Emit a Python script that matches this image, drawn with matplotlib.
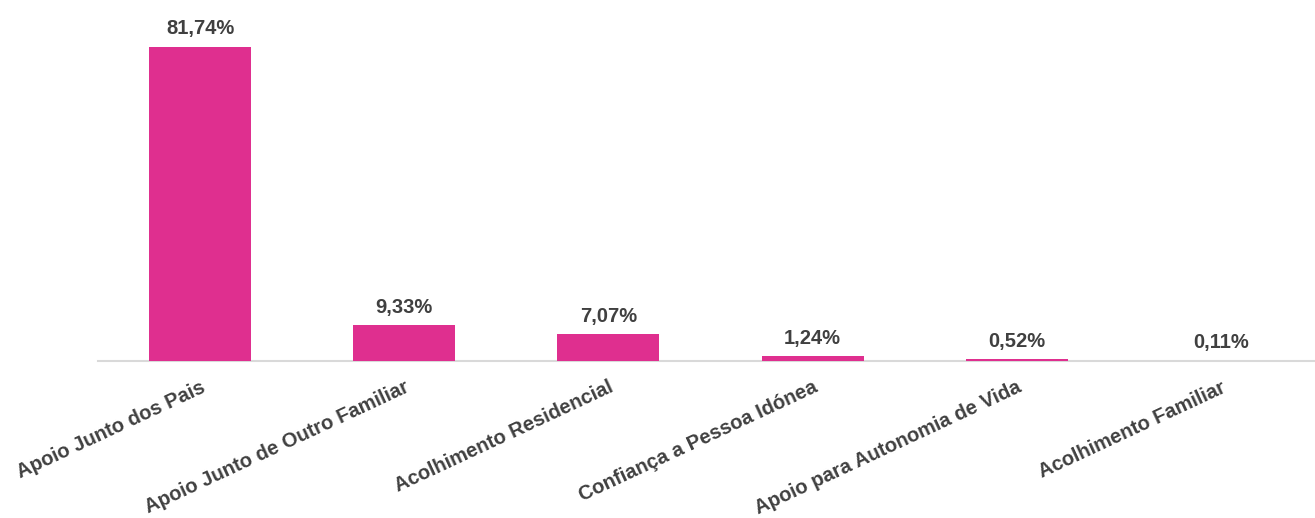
import matplotlib.pyplot as plt
import numpy as np

categories = ['Apoio Junto dos Pais', 'Apoio Junto de Outro Familiar',
              'Acolhimento Residencial', 'Confiança a Pessoa Idónea',
              'Apoio para Autonomia de Vida', 'Acolhimento Familiar']
values = [81.74, 9.33, 7.07, 1.24, 0.52, 0.11]
labels = ['81,74%', '9,33%', '7,07%', '1,24%', '0,52%', '0,11%']

plt.rcParams['font.family'] = ['Liberation Sans', 'DejaVu Sans']
text_color = '#404040'

fig = plt.figure(figsize=(13.15, 5.18), dpi=100)
ax = fig.add_axes([0.0745, 0.303, 0.9316, 0.668])

x = np.arange(len(categories))
bars = ax.bar(x, values, width=0.5, color='#DF2F8F', zorder=3)

# value labels above each bar
for xi, v, lab in zip(x, values, labels):
    ax.annotate(lab, xy=(xi, v), xytext=(0, 6), textcoords='offset points',
                ha='center', va='bottom', fontsize=14.5, fontweight='bold',
                color=text_color)

ax.set_xlim(-0.5, len(categories) - 0.5)
ax.set_ylim(0, 90)
ax.set_yticks([])
ax.set_xticks(x)
ax.set_xticklabels(categories, rotation=25, ha='right', rotation_mode='anchor',
                   fontsize=14.5, fontweight='bold', color=text_color)
ax.tick_params(axis='x', length=0, pad=12)

for side in ['top', 'right', 'left']:
    ax.spines[side].set_visible(False)
ax.spines['bottom'].set_color('#D9D9D9')
ax.spines['bottom'].set_linewidth(1.5)
ax.spines['bottom'].set_zorder(1)

plt.savefig('out.png', dpi=100)
